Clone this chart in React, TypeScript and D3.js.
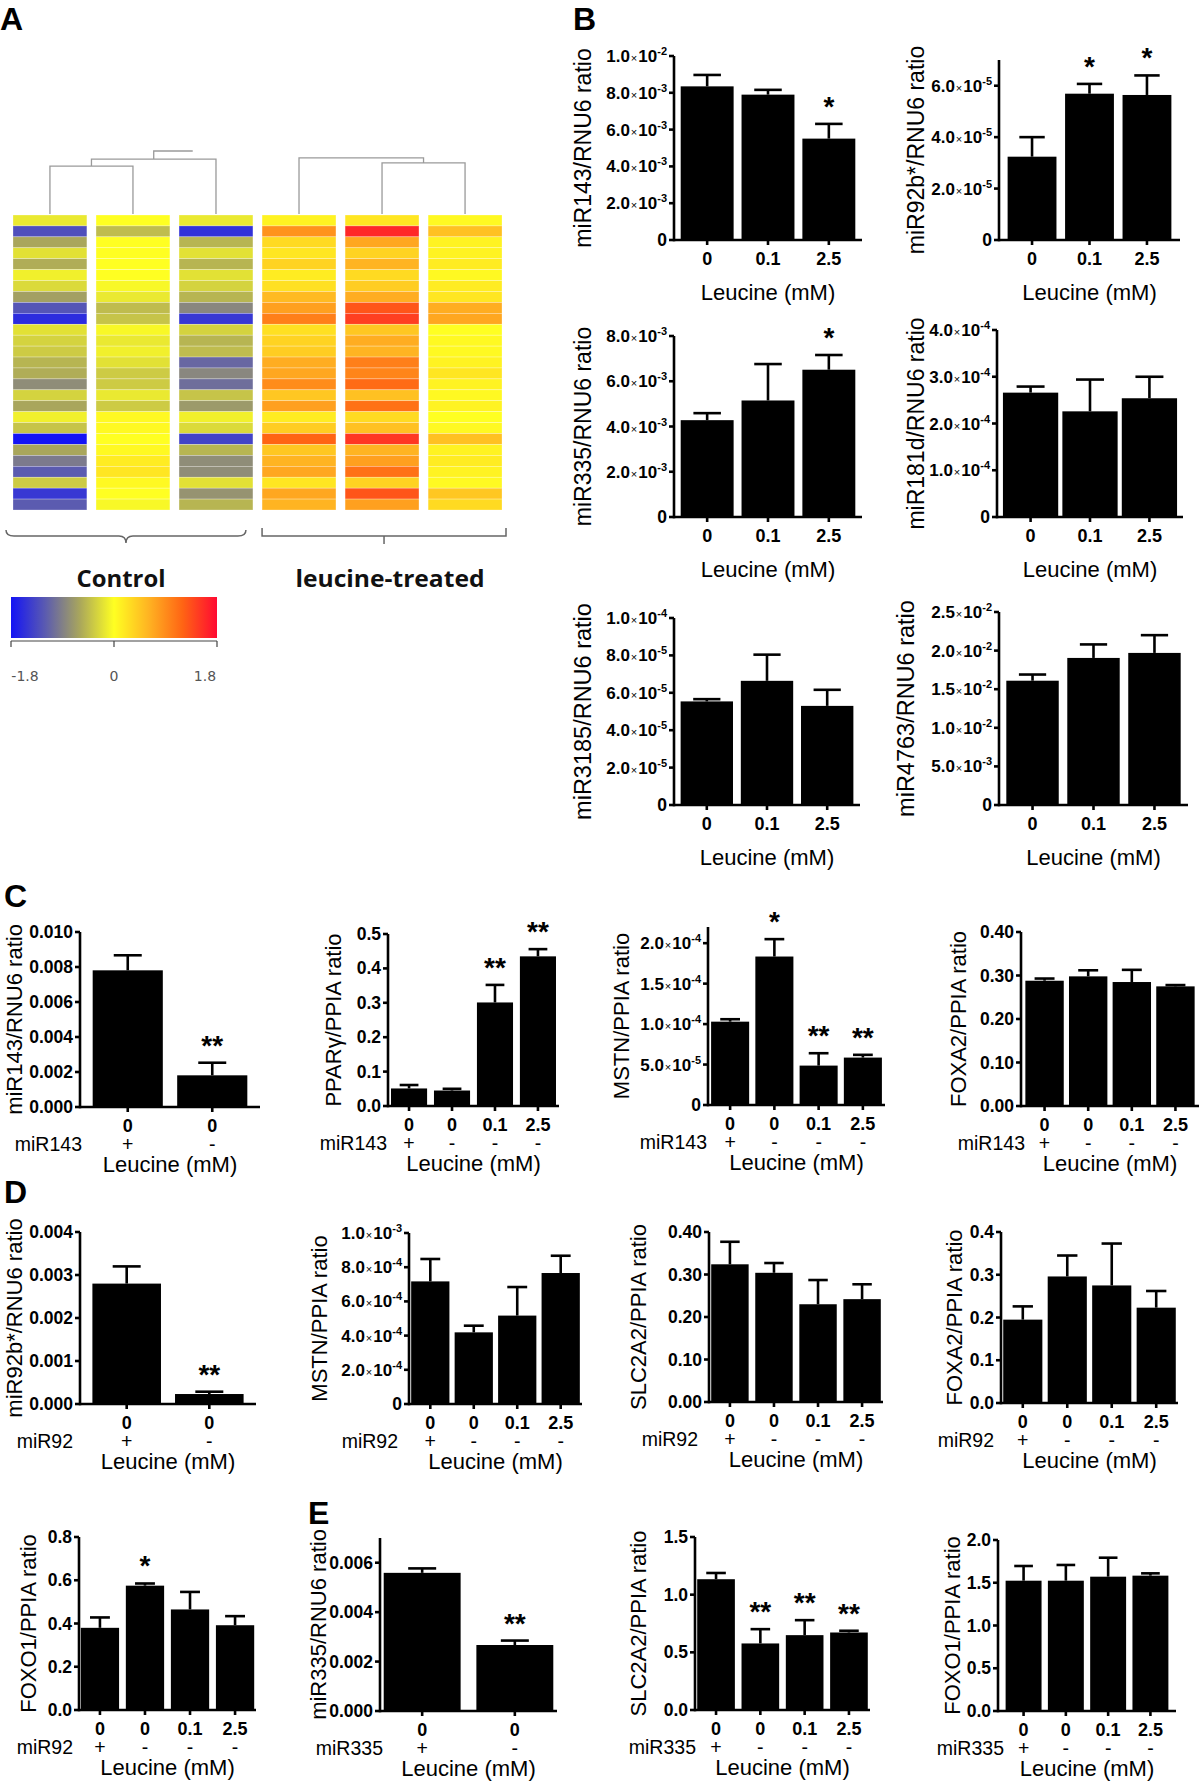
import React from 'react';
import * as d3 from 'd3';

const FONT = '"Liberation Sans", Arial, Helvetica, sans-serif';
const HEAT_FONT = '"Open Sans", "DejaVu Sans", sans-serif';

// ---------- Panel A: heatmap (27 miRNAs x 6 samples, log ratio) ----------
const heatSamples = ['Ctrl 1', 'Ctrl 2', 'Ctrl 3', 'Leu 1', 'Leu 2', 'Leu 3'];
const heatCtrl1 = [-0.15, -1.3, -0.6, -0.2, -0.55, -0.1, -0.25, -0.65, -1.25, -1.6, -0.2, -0.3, -0.35, -0.5, -0.55, -0.8, -0.3, -0.6, -0.1, -0.4, -1.8, -0.6, -0.95, -1.2, -0.35, -1.5, -1.2];
const heatCtrl2 = [0, -0.45, 0, 0, 0, 0, -0.05, -0.15, -0.45, -0.4, -0.05, -0.15, -0.1, -0.2, -0.35, -0.35, -0.15, -0.35, 0.05, 0.05, 0, 0.05, 0.15, 0.2, 0.05, 0, -0.05];
const heatCtrl3 = [-0.15, -1.55, -0.5, -0.2, -0.5, -0.2, -0.3, -0.5, -0.85, -1.5, -0.3, -0.5, -0.45, -1.1, -0.85, -1.05, -0.4, -0.7, -0.1, -0.25, -1.4, -0.5, -0.8, -0.8, -0.2, -0.75, -0.5];
const heatLeu1 = [0.1, 0.85, 0.3, 0.2, 0.35, 0.15, 0.25, 0.55, 0.75, 1.0, 0.25, 0.35, 0.4, 0.65, 0.7, 0.9, 0.45, 0.75, 0.15, 0.4, 1.2, 0.45, 0.6, 0.7, 0.2, 0.7, 0.6];
const heatLeu2 = [0.2, 1.6, 0.7, 0.35, 0.6, 0.3, 0.4, 0.65, 1.3, 1.45, 0.45, 0.65, 0.6, 1.0, 0.95, 1.15, 0.5, 1.1, 0.3, 0.5, 1.5, 0.6, 0.75, 1.1, 0.35, 1.3, 0.75];
const heatLeu3 = [0.05, 0.5, 0.1, 0.1, 0.15, 0.05, 0.15, 0.2, 0.65, 0.7, 0, 0.05, 0.05, 0.1, 0.2, 0.1, 0.05, 0.1, 0, 0.05, 0.5, 0.1, 0.15, 0.1, 0.05, 0.45, 0.3];
const heatColumns = [heatCtrl1, heatCtrl2, heatCtrl3, heatLeu1, heatLeu2, heatLeu3];
// dendrogram merge heights (relative)
const ctrlTreeHeights = [0.76, 0.87, 1.0];
const leuTreeHeights = [0.81, 0.89];
const scaleStops = [-1.8, -1.2, -0.6, 0, 0.6, 1.2, 1.8];
const scaleColors = ['#1414f5', '#5b5bb0', '#a9a65c', '#ffff22', '#ffb422', '#ff6414', '#ff0a32'];
const scaleTicks = [-1.8, 0, 1.8];

// ---------- categories ----------
const leu3 = ['0', '0.1', '2.5'];
const leu2 = ['0', '0'];
const leu4 = ['0', '0', '0.1', '2.5'];
const mimic2 = ['+', '-'];
const mimic4 = ['+', '-', '-', '-'];

// ---------- Panel B ----------
const b143Mean = [8.35e-3, 7.9e-3, 5.51e-3];
const b143Sem = [0.62e-3, 0.26e-3, 0.8e-3];
const b143Stars = ['', '', '*'];
const b92Mean = [3.24e-5, 5.69e-5, 5.64e-5];
const b92Sem = [0.76e-5, 0.38e-5, 0.76e-5];
const b92Stars = ['', '*', '*'];
const b335Mean = [4.28e-3, 5.15e-3, 6.51e-3];
const b335Sem = [0.31e-3, 1.61e-3, 0.65e-3];
const b335Stars = ['', '', '*'];
const b181Mean = [2.66e-4, 2.26e-4, 2.54e-4];
const b181Sem = [0.13e-4, 0.68e-4, 0.46e-4];
const b3185Mean = [5.54e-5, 6.64e-5, 5.3e-5];
const b3185Sem = [0.12e-5, 1.4e-5, 0.86e-5];
const b4763Mean = [1.61e-2, 1.905e-2, 1.97e-2];
const b4763Sem = [0.08e-2, 0.175e-2, 0.23e-2];

// ---------- Panel C ----------
const c143Mean = [0.00781, 0.00181];
const c143Sem = [0.00086, 0.00072];
const c143Stars = ['', '**'];
const cPparMean = [0.051, 0.045, 0.301, 0.435];
const cPparSem = [0.01, 0.005, 0.051, 0.021];
const cPparStars = ['', '', '**', '**'];
const cMstnMean = [1.03e-4, 1.835e-4, 0.487e-4, 0.586e-4];
const cMstnSem = [0.03e-4, 0.215e-4, 0.153e-4, 0.034e-4];
const cMstnStars = ['', '*', '**', '**'];
const cFoxa2Mean = [0.288, 0.298, 0.285, 0.275];
const cFoxa2Sem = [0.005, 0.014, 0.028, 0.003];

// ---------- Panel D ----------
const d92Mean = [2.8e-3, 0.232e-3];
const d92Sem = [0.4e-3, 0.054e-3];
const d92Stars = ['', '**'];
const dMstnMean = [7.17e-4, 4.19e-4, 5.17e-4, 7.66e-4];
const dMstnSem = [1.31e-4, 0.39e-4, 1.67e-4, 1.01e-4];
const dSlcMean = [0.324, 0.304, 0.23, 0.242];
const dSlcSem = [0.053, 0.023, 0.057, 0.035];
const dFoxa2Mean = [0.195, 0.296, 0.275, 0.223];
const dFoxa2Sem = [0.031, 0.049, 0.098, 0.039];
const dFoxo1Mean = [0.38, 0.575, 0.465, 0.392];
const dFoxo1Sem = [0.048, 0.01, 0.081, 0.042];
const dFoxo1Stars = ['', '*', '', ''];

// ---------- Panel E ----------
const e335Mean = [5.59e-3, 2.67e-3];
const e335Sem = [0.18e-3, 0.18e-3];
const e335Stars = ['', '**'];
const eSlcMean = [1.134, 0.577, 0.649, 0.672];
const eSlcSem = [0.054, 0.124, 0.13, 0.015];
const eSlcStars = ['', '**', '**', '**'];
const eFoxo1Mean = [1.524, 1.524, 1.571, 1.583];
const eFoxo1Sem = [0.172, 0.184, 0.222, 0.027];

// ---------- y tick values ----------
const ticksB143 = [0, 2e-3, 4e-3, 6e-3, 8e-3, 1e-2];
const ticksB92 = [0, 2e-5, 4e-5, 6e-5];
const ticksB335 = [0, 2e-3, 4e-3, 6e-3, 8e-3];
const ticksB181 = [0, 1e-4, 2e-4, 3e-4, 4e-4];
const ticksB3185 = [0, 2e-5, 4e-5, 6e-5, 8e-5, 1e-4];
const ticksB4763 = [0, 5e-3, 1e-2, 1.5e-2, 2e-2, 2.5e-2];
const ticksC143 = [0, 0.002, 0.004, 0.006, 0.008, 0.01];
const ticksPpar = [0, 0.1, 0.2, 0.3, 0.4, 0.5];
const ticksCMstn = [0, 5e-5, 1e-4, 1.5e-4, 2e-4];
const ticks04 = [0, 0.1, 0.2, 0.3, 0.4];
const ticksD92 = [0, 0.001, 0.002, 0.003, 0.004];
const ticksDMstn = [0, 2e-4, 4e-4, 6e-4, 8e-4, 1e-3];
const ticksFoxo1D = [0, 0.2, 0.4, 0.6, 0.8];
const ticksE335 = [0, 0.002, 0.004, 0.006];
const ticksESlc = [0, 0.5, 1, 1.5];
const ticksEFoxo1 = [0, 0.5, 1, 1.5, 2];

type Cfg = {
  means: number[]; sems: number[]; stars?: string[]; cats: string[];
  mimic?: string[]; mimicName?: string; mimicEnd?: number;
  ticks: number[]; max: number; fmt: string; title: string; titleSize?: number;
  ax: number; xr: number; yt: number; yb: number; pi: number; po: number; titleX: number;
};

const charts: Cfg[] = [
  { means: b143Mean, sems: b143Sem, stars: b143Stars, cats: leu3, ticks: ticksB143, max: 1e-2, fmt: 'sci', title: 'miR143/RNU6 ratio', titleSize: 23, ax: 674, xr: 862, yt: 56, yb: 240, pi: 0.13, po: 0.11, titleX: 583 },
  { means: b92Mean, sems: b92Sem, stars: b92Stars, cats: leu3, ticks: ticksB92, max: 7e-5, fmt: 'sci', title: 'miR92b*/RNU6 ratio', titleSize: 23, ax: 999, xr: 1180, yt: 60, yb: 240, pi: 0.15, po: 0.15, titleX: 916 },
  { means: b335Mean, sems: b335Sem, stars: b335Stars, cats: leu3, ticks: ticksB335, max: 8e-3, fmt: 'sci', title: 'miR335/RNU6 ratio', titleSize: 23, ax: 674, xr: 862, yt: 336, yb: 517, pi: 0.13, po: 0.11, titleX: 583 },
  { means: b181Mean, sems: b181Sem, cats: leu3, ticks: ticksB181, max: 4e-4, fmt: 'sci', title: 'miR181d/RNU6 ratio', titleSize: 23, ax: 997, xr: 1183, yt: 330, yb: 517, pi: 0.07, po: 0.1, titleX: 916 },
  { means: b3185Mean, sems: b3185Sem, cats: leu3, ticks: ticksB3185, max: 1e-4, fmt: 'sci', title: 'miR3185/RNU6 ratio', titleSize: 23.5, ax: 674, xr: 860, yt: 618, yb: 805, pi: 0.13, po: 0.11, titleX: 583 },
  { means: b4763Mean, sems: b4763Sem, cats: leu3, ticks: ticksB4763, max: 2.5e-2, fmt: 'sci', title: 'miR4763/RNU6 ratio', titleSize: 23.5, ax: 999, xr: 1188, yt: 612, yb: 805, pi: 0.14, po: 0.12, titleX: 906 },

  { means: c143Mean, sems: c143Sem, stars: c143Stars, cats: leu2, mimic: mimic2, mimicName: 'miR143', mimicEnd: 82, ticks: ticksC143, max: 0.01, fmt: '.3f', title: 'miR143/RNU6 ratio', ax: 80, xr: 260, yt: 932, yb: 1107, pi: 0.17, po: 0.15, titleX: 14 },
  { means: cPparMean, sems: cPparSem, stars: cPparStars, cats: leu4, mimic: mimic4, mimicName: 'miR143', mimicEnd: 387, ticks: ticksPpar, max: 0.5, fmt: '.1f', title: 'PPARγ/PPIA ratio', ax: 388, xr: 559, yt: 934, yb: 1106, pi: 0.16, po: 0.07, titleX: 333 },
  { means: cMstnMean, sems: cMstnSem, stars: cMstnStars, cats: leu4, mimic: mimic4, mimicName: 'miR143', mimicEnd: 707, ticks: ticksCMstn, max: 2.2e-4, fmt: 'sci', title: 'MSTN/PPIA ratio', ax: 708, xr: 885, yt: 927, yb: 1105, pi: 0.14, po: 0.07, titleX: 621 },
  { means: cFoxa2Mean, sems: cFoxa2Sem, cats: leu4, mimic: mimic4, mimicName: 'miR143', mimicEnd: 1025, ticks: ticks04, max: 0.4, fmt: '.2f', title: 'FOXA2/PPIA ratio', ax: 1021, xr: 1199, yt: 932, yb: 1106, pi: 0.12, po: 0.1, titleX: 958 },

  { means: d92Mean, sems: d92Sem, stars: d92Stars, cats: leu2, mimic: mimic2, mimicName: 'miR92', mimicEnd: 73, ticks: ticksD92, max: 0.004, fmt: '.3f', title: 'miR92b*/RNU6 ratio', ax: 80, xr: 256, yt: 1232, yb: 1404, pi: 0.17, po: 0.15, titleX: 14 },
  { means: dMstnMean, sems: dMstnSem, cats: leu4, mimic: mimic4, mimicName: 'miR92', mimicEnd: 398, ticks: ticksDMstn, max: 1e-3, fmt: 'sci', title: 'MSTN/PPIA ratio', ax: 409, xr: 582, yt: 1233, yb: 1404, pi: 0.12, po: 0.05, titleX: 319 },
  { means: dSlcMean, sems: dSlcSem, cats: leu4, mimic: mimic4, mimicName: 'miR92', mimicEnd: 698, ticks: ticks04, max: 0.4, fmt: '.2f', title: 'SLC2A2/PPIA ratio', ax: 709, xr: 883, yt: 1232, yb: 1402, pi: 0.15, po: 0.05, titleX: 638 },
  { means: dFoxa2Mean, sems: dFoxa2Sem, cats: leu4, mimic: mimic4, mimicName: 'miR92', mimicEnd: 994, ticks: ticks04, max: 0.4, fmt: '.1f', title: 'FOXA2/PPIA ratio', ax: 1001, xr: 1178, yt: 1232, yb: 1403, pi: 0.12, po: 0.05, titleX: 954 },
  { means: dFoxo1Mean, sems: dFoxo1Sem, stars: dFoxo1Stars, cats: leu4, mimic: mimic4, mimicName: 'miR92', mimicEnd: 73, ticks: ticksFoxo1D, max: 0.8, fmt: '.1f', title: 'FOXO1/PPIA ratio', ax: 79, xr: 256, yt: 1537, yb: 1710, pi: 0.15, po: 0.04, titleX: 28 },

  { means: e335Mean, sems: e335Sem, stars: e335Stars, cats: leu2, mimic: mimic2, mimicName: 'miR335', mimicEnd: 383, ticks: ticksE335, max: 0.007, fmt: '.3f', title: 'miR335/RNU6 ratio', ax: 380, xr: 557, yt: 1538, yb: 1711, pi: 0.17, po: 0.04, titleX: 318 },
  { means: eSlcMean, sems: eSlcSem, stars: eSlcStars, cats: leu4, mimic: mimic4, mimicName: 'miR335', mimicEnd: 696, ticks: ticksESlc, max: 1.5, fmt: '.1f', title: 'SLC2A2/PPIA ratio', ax: 695, xr: 870, yt: 1537, yb: 1710, pi: 0.15, po: 0.05, titleX: 638 },
  { means: eFoxo1Mean, sems: eFoxo1Sem, cats: leu4, mimic: mimic4, mimicName: 'miR335', mimicEnd: 1004, ticks: ticksEFoxo1, max: 2, fmt: '.1f', title: 'FOXO1/PPIA ratio', ax: 998, xr: 1176, yt: 1540, yb: 1711, pi: 0.15, po: 0.18, titleX: 952 },
];

const panelLetters = [
  { t: 'A', x: 0, y: 30 },
  { t: 'B', x: 573, y: 30 },
  { t: 'C', x: 4, y: 907 },
  { t: 'D', x: 4, y: 1203 },
  { t: 'E', x: 308, y: 1524 },
];

function TickLabel({ v, fmt, x, y }: { v: number; fmt: string; x: number; y: number }) {
  if (fmt === 'sci' && v !== 0) {
    const e = Math.floor(Math.log10(v) + 1e-9);
    const m = (v / Math.pow(10, e)).toFixed(1);
    return (
      <text x={x} y={y + 6} textAnchor="end" fontWeight="bold" fontSize={17}>
        <tspan>{m}</tspan>
        <tspan fontSize={11} fontWeight="normal" dx={1}>×</tspan>
        <tspan dx={1}>10</tspan>
        <tspan fontSize={11} dy={-7}>{String(e)}</tspan>
      </text>
    );
  }
  const s = fmt === 'sci' ? '0' : d3.format(fmt)(v);
  return <text x={x} y={y + 6} textAnchor="end" fontWeight="bold" fontSize={17.5}>{s}</text>;
}

function BarChart({ c }: { c: Cfg }) {
  const n = c.means.length;
  const x = d3.scaleBand<number>().domain(d3.range(n)).range([c.ax, c.xr]).paddingInner(c.pi).paddingOuter(c.po);
  const y = d3.scaleLinear().domain([0, c.max]).range([c.yb, c.yt]);
  const bw = x.bandwidth();
  const cx = (i: number) => (x(i) as number) + bw / 2;
  const midX = ((x(0) as number) + (x(n - 1) as number) + bw) / 2;
  const midY = (c.yb + c.yt) / 2;
  const hasMimic = !!c.mimic;
  const xlabY = c.yb + 25;
  const leuY = hasMimic ? c.yb + 65 : c.yb + 60;
  const sw = 2.6;
  const capW = Math.min(bw * 0.52, 28);
  return (
    <g fontFamily={FONT} fill="#000">
      {c.means.map((m, i) => (
        <rect key={'b' + i} x={x(i)} y={y(m)} width={bw} height={c.yb - y(m)} fill="#000" />
      ))}
      {c.means.map((m, i) => {
        const top = y(m + c.sems[i]);
        return (
          <g key={'e' + i} stroke="#000" strokeWidth={sw}>
            <line x1={cx(i)} x2={cx(i)} y1={y(m)} y2={top} />
            <line x1={cx(i) - capW / 2} x2={cx(i) + capW / 2} y1={top} y2={top} />
          </g>
        );
      })}
      {(c.stars || []).map((s, i) =>
        s ? (
          <text key={'s' + i} x={cx(i)} y={y(c.means[i] + c.sems[i]) - 8} textAnchor="middle" fontWeight="bold" fontSize={28}>{s}</text>
        ) : null
      )}
      {/* axes */}
      <line x1={c.ax} x2={c.ax} y1={c.yb + sw / 2} y2={c.yt} stroke="#000" strokeWidth={sw} />
      <line x1={c.ax} x2={c.xr} y1={c.yb} y2={c.yb} stroke="#000" strokeWidth={sw} />
      {c.ticks.map((t, i) => (
        <g key={'yt' + i}>
          <line x1={c.ax - 5} x2={c.ax} y1={y(t)} y2={y(t)} stroke="#000" strokeWidth={sw} />
          <TickLabel v={t} fmt={c.fmt} x={c.ax - 7} y={y(t)} />
        </g>
      ))}
      {c.cats.map((cat, i) => (
        <g key={'xt' + i}>
          <line x1={cx(i)} x2={cx(i)} y1={c.yb} y2={c.yb + 5} stroke="#000" strokeWidth={sw} />
          <text x={cx(i)} y={xlabY} textAnchor="middle" fontWeight="bold" fontSize={18}>{cat}</text>
        </g>
      ))}
      {hasMimic && (
        <g fontSize={19.5}>
          <text x={c.mimicEnd} y={c.yb + 44} textAnchor="end">{c.mimicName}</text>
          {c.mimic!.map((s, i) => (
            <text key={'m' + i} x={cx(i)} y={c.yb + 44} textAnchor="middle">{s}</text>
          ))}
        </g>
      )}
      <text x={midX} y={leuY} textAnchor="middle" fontSize={22}>Leucine (mM)</text>
      <text transform={`translate(${c.titleX + 8},${midY}) rotate(-90)`} textAnchor="middle" fontSize={c.titleSize || 22}>{c.title}</text>
    </g>
  );
}

function Heatmap() {
  const colX = d3.scaleBand<number>().domain(d3.range(heatSamples.length)).range([13, 502]).paddingInner(0.11);
  const rowY = d3.scaleBand<number>().domain(d3.range(heatCtrl1.length)).range([215, 510]);
  const color = d3.scaleLinear<string>().domain(scaleStops).range(scaleColors).clamp(true);
  const bw = colX.bandwidth();
  const ccx = (i: number) => (colX(i) as number) + bw / 2;
  const treeY = d3.scaleLinear().domain([0, 1]).range([214, 151]);
  const leafY = 214;

  // control: (c0,c1) then +c2, root stub
  const n01x = (ccx(0) + ccx(1)) / 2;
  const h0 = treeY(ctrlTreeHeights[0]);
  const h1 = treeY(ctrlTreeHeights[1]);
  const h2 = treeY(ctrlTreeHeights[2]);
  const n012x = (n01x + ccx(2)) / 2;
  const ctrlPath = `M${ccx(0)},${leafY}V${h0}H${ccx(1)}V${leafY}M${n01x},${h0}V${h1}H${ccx(2)}V${leafY}M${n012x},${h1}V${h2}H${n012x + 39}`;
  // leucine: (l1,l2) then +l0
  const n12x = (ccx(4) + ccx(5)) / 2;
  const g0 = treeY(leuTreeHeights[0]);
  const g1 = treeY(leuTreeHeights[1]);
  const leuPath = `M${ccx(4)},${leafY}V${g0}H${ccx(5)}V${leafY}M${n12x},${g0}V${g1}H${ccx(3)}V${leafY}`;

  const cb = d3.scaleLinear().domain([-1.8, 1.8]).range([11, 217]);
  const ctrlL = (colX(0) as number) - 7;
  const ctrlR = (colX(2) as number) + bw - 7;
  const ctrlM = (ctrlL + ctrlR) / 2;
  const leuL = colX(3) as number;
  const leuR = (colX(5) as number) + bw + 4;
  const leuM = ccx(4) + 2;
  const by = 536;

  return (
    <g>
      <defs>
        <linearGradient id="heatGrad" x1="0" x2="1" y1="0" y2="0">
          {scaleStops.map((s, i) => (
            <stop key={i} offset={(s + 1.8) / 3.6} stopColor={scaleColors[i]} />
          ))}
        </linearGradient>
      </defs>
      {heatColumns.map((col, ci) =>
        col.map((v, ri) => (
          <rect key={ci + '-' + ri} x={colX(ci)} y={rowY(ri)} width={bw} height={rowY.bandwidth()} fill={color(v)} stroke="rgba(255,255,255,0.45)" strokeWidth={0.6} />
        ))
      )}
      <path d={ctrlPath} fill="none" stroke="#9a9a9a" strokeWidth={1.3} />
      <path d={leuPath} fill="none" stroke="#9a9a9a" strokeWidth={1.3} />
      <path d={`M${ctrlL},${by - 6}Q${ctrlL},${by} ${ctrlL + 8},${by}H${ctrlM - 7}Q${ctrlM},${by} ${ctrlM},${by + 7}Q${ctrlM},${by} ${ctrlM + 7},${by}H${ctrlR - 8}Q${ctrlR},${by} ${ctrlR},${by - 6}`} fill="none" stroke="#666" strokeWidth={1.5} />
      <path d={`M${leuL},${by - 8}V${by}H${leuR}V${by - 8}M${leuM},${by}V${by + 8}`} fill="none" stroke="#666" strokeWidth={1.5} />
      <text x={121} y={587} textAnchor="middle" fontFamily={HEAT_FONT} fontWeight="bold" fontSize={24} textLength={89} lengthAdjust="spacingAndGlyphs" fill="#111">Control</text>
      <text x={390} y={587} textAnchor="middle" fontFamily={HEAT_FONT} fontWeight="bold" fontSize={24} textLength={189} lengthAdjust="spacingAndGlyphs" fill="#111">leucine-treated</text>
      <rect x={cb(-1.8)} y={597} width={cb(1.8) - cb(-1.8)} height={41} fill="url(#heatGrad)" />
      <line x1={cb(-1.8)} x2={cb(1.8)} y1={641} y2={641} stroke="#444" strokeWidth={1.2} />
      {scaleTicks.map((t, i) => (
        <g key={i}>
          <line x1={cb(t)} x2={cb(t)} y1={641} y2={647} stroke="#444" strokeWidth={1.2} />
          <text x={t === -1.8 ? cb(t) + 14 : t === 1.8 ? cb(t) - 12 : cb(t)} y={681} textAnchor="middle" fontFamily={'"DejaVu Sans", sans-serif'} fontSize={14} fill="#555">{String(t)}</text>
        </g>
      ))}
    </g>
  );
}

export default function App() {
  return (
    <div style={{ position: 'absolute', left: 0, top: 0, background: '#fff' }}>
      <svg width={1200} height={1786} viewBox="0 0 1200 1786" style={{ display: 'block', background: '#fff' }}>
        <rect width={1200} height={1786} fill="#fff" />
        <Heatmap />
        {charts.map((c, i) => (
          <BarChart key={i} c={c} />
        ))}
        {panelLetters.map((p) => (
          <text key={p.t} x={p.x} y={p.y} fontFamily={FONT} fontWeight="bold" fontSize={32}>{p.t}</text>
        ))}
      </svg>
    </div>
  );
}
